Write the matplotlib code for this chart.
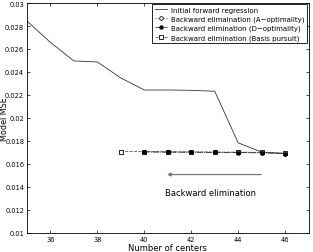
import numpy as np
import matplotlib
matplotlib.use("Agg")
import matplotlib.pyplot as plt

# forward regression path
fwd_x = [35, 36, 37, 38, 39, 40, 41, 42, 43, 44, 45, 46]
fwd_y = [0.02843, 0.02658, 0.02496, 0.02487, 0.02348, 0.02243,
         0.02243, 0.02240, 0.02232, 0.01783, 0.01702, 0.01690]

# backward elimination runs
aopt_x = [40, 41, 42, 43, 44, 45, 46]
aopt_y = [0.01705, 0.01703, 0.01702, 0.01700, 0.01699, 0.01697, 0.01690]
dopt_x = [40, 41, 42, 43, 44, 45, 46]
dopt_y = [0.01704, 0.01702, 0.01701, 0.01699, 0.01698, 0.01696, 0.01690]
bp_x = [39, 40, 41, 42, 43, 44, 45, 46]
bp_y = [0.01707, 0.01706, 0.01705, 0.01704, 0.01703, 0.01702, 0.01700, 0.01692]

xticks = [36, 38, 40, 42, 44, 46]
yticks = [0.01, 0.012, 0.014, 0.016, 0.018, 0.02, 0.022, 0.024, 0.026, 0.028, 0.03]

fig = plt.figure(figsize=(3.13, 2.53), dpi=100)
ax = fig.add_axes([0.086, 0.076, 0.9, 0.908])

ax.plot(fwd_x, fwd_y, '-', color='#333333', lw=0.6, label='Initial forward regression')
ax.plot(aopt_x, aopt_y, ':', color='#333333', lw=0.6, marker='o', ms=2.6,
        mfc='white', mec='black', mew=0.6, zorder=3,
        label='Backward elimaination (A\u2212optimality)')
ax.plot(dopt_x, dopt_y, '-.', color='#333333', lw=0.6, marker='o', ms=2.2,
        mfc='black', mec='black', zorder=4,
        label='Backward elimination (D\u2212optimality)')
ax.plot(bp_x, bp_y, '--', color='#555555', lw=0.6, marker='s', ms=2.2,
        mfc='white', mec='black', mew=0.6, zorder=2,
        label='Backward elimination (Basis pursuit)')

ax.annotate('', xy=(40.85, 0.01507), xytext=(45.1, 0.01507),
            arrowprops=dict(arrowstyle='-|>', color='#777777', lw=0.9,
                            mutation_scale=5))
ax.text(42.8, 0.0135, 'Backward elimination', fontsize=6, ha='center', va='center')

ax.set_xlim(35, 47)
ax.set_ylim(0.01, 0.03)
ax.set_xticks(xticks)
ax.set_yticks(yticks)
ax.set_yticklabels(['0.01', '0.012', '0.014', '0.016', '0.018', '0.02',
                    '0.022', '0.024', '0.026', '0.028', '0.03'])
ax.tick_params(direction='in', top=True, right=True, labelsize=4.8,
               length=2.5, width=0.5, pad=2)
for s in ax.spines.values():
    s.set_linewidth(0.6)
ax.set_xlabel('Number of centers', fontsize=6, labelpad=1)
ax.set_ylabel('Model MSE', fontsize=5.8)
ax.yaxis.set_label_coords(-0.064, 0.5)

leg = ax.legend(loc='upper right', fontsize=5.0, frameon=True, fancybox=False,
                edgecolor='black', framealpha=1, handlelength=1.8, handletextpad=0.6,
                borderpad=0.35, labelspacing=0.4, borderaxespad=0.2)
leg.get_frame().set_linewidth(0.6)

fig.savefig('out.png', dpi=100)
